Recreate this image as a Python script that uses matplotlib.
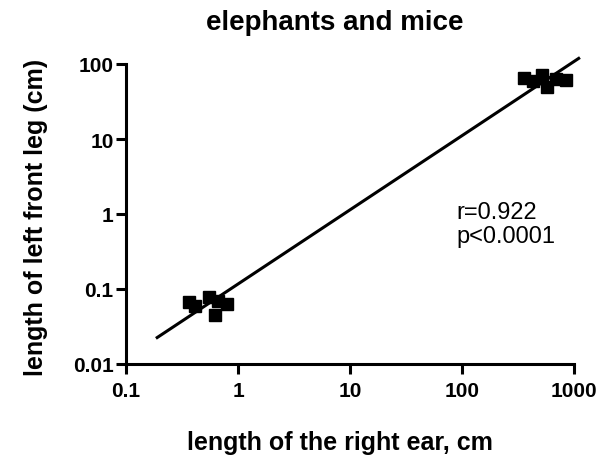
import matplotlib
matplotlib.use('Agg')
import matplotlib.pyplot as plt
import numpy as np
from matplotlib.ticker import FixedLocator, FixedFormatter, NullLocator

plt.rcParams['font.family'] = ['Liberation Sans', 'DejaVu Sans']

# ear length (cm) vs. front leg length (cm)
mice_ear = [0.365, 0.413, 0.55, 0.62, 0.80, 0.66]
mice_leg = [0.068, 0.059, 0.078, 0.045, 0.063, 0.069]
elephant_ear = [358, 431, 518, 574, 690, 849]
elephant_leg = [65, 59, 71, 49, 63, 61]

x_ticks = [0.1, 1, 10, 100, 1000]
x_labels = ['0.1', '1', '10', '100', '1000']
y_ticks = [0.01, 0.1, 1, 10, 100]
y_labels = ['0.01', '0.1', '1', '10', '100']

r_text = "r=0.922\np<0.0001"

ear = np.array(mice_ear + elephant_ear)
leg = np.array(mice_leg + elephant_leg)

fig = plt.figure(figsize=(6.02, 4.60), dpi=100)
ax = fig.add_axes([126 / 602, 1 - 365 / 460, 448 / 602, 300 / 460])

ax.plot(ear, leg, 's', color='black', markersize=8, zorder=3, clip_on=False)

# log-log regression line, runs a bit past the last decade
slope, icpt = np.polyfit(np.log10(ear), np.log10(leg), 1)
xl = np.array([0.185, 1130])
ax.plot(xl, 10 ** (icpt + slope * np.log10(xl)), color='black', lw=2.2,
        solid_capstyle='butt', zorder=2, clip_on=False)

ax.set_xscale('log')
ax.set_yscale('log')
ax.set_xlim(0.1, 1000)
ax.set_ylim(0.01, 100)

ax.xaxis.set_major_locator(FixedLocator(x_ticks))
ax.xaxis.set_major_formatter(FixedFormatter(x_labels))
ax.yaxis.set_major_locator(FixedLocator(y_ticks))
ax.yaxis.set_major_formatter(FixedFormatter(y_labels))
ax.xaxis.set_minor_locator(NullLocator())
ax.yaxis.set_minor_locator(NullLocator())

for side in ('top', 'right'):
    ax.spines[side].set_visible(False)
for side in ('left', 'bottom'):
    ax.spines[side].set_linewidth(2.2)
    ax.spines[side].set_capstyle('projecting')

ax.tick_params(direction='out', length=7, width=2.2, labelsize=15)
ax.tick_params(axis='x', pad=5)
ax.tick_params(axis='y', pad=2)
for lab in ax.get_xticklabels() + ax.get_yticklabels():
    lab.set_fontweight('bold')

ax.text(456, 460 - 225, r_text, transform=None, fontsize=17, ha='left',
        va='center', linespacing=1.15)

fig.text(335 / 602, 1 - 23 / 460, "elephants and mice", ha='center', va='center',
         fontsize=20, fontweight='bold')
fig.text(340 / 602, 1 - 443 / 460, "length of the right ear, cm", ha='center',
         va='center', fontsize=18, fontweight='bold')
fig.text(36 / 602, 1 - 217 / 460, "length of left front leg (cm)", ha='center',
         va='center', fontsize=18, fontweight='bold', rotation=90)

fig.savefig('out.png', dpi=100, facecolor='white')
